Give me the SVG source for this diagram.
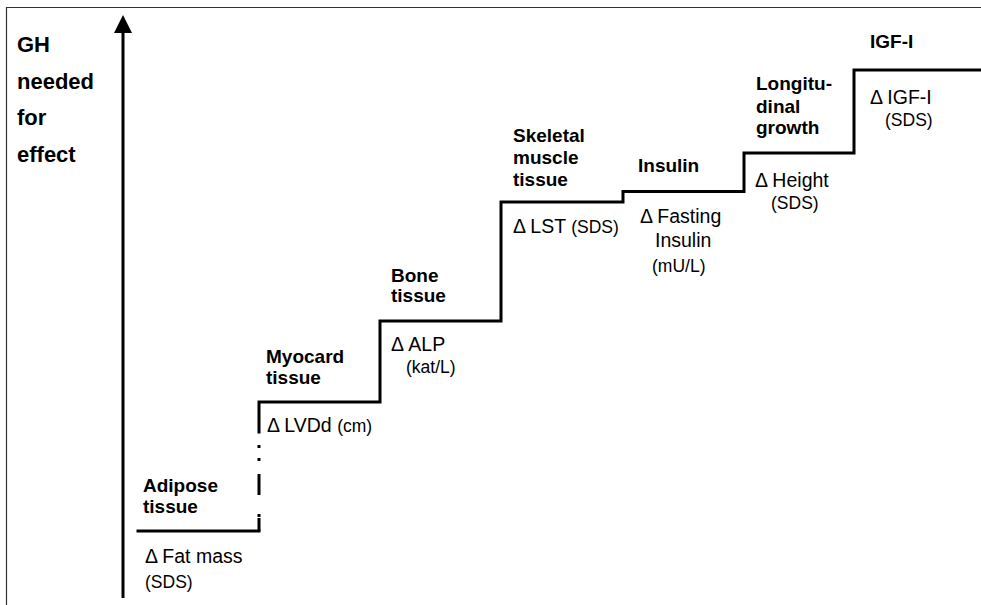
<svg xmlns="http://www.w3.org/2000/svg" width="981" height="605" viewBox="0 0 981 605">
  <style>
    .frame { fill: none; stroke: #333; stroke-width: 1.2; }
    .step { fill: none; stroke: #000; stroke-width: 3; stroke-linejoin: miter; stroke-linecap: square; }
    .gap { fill: none; stroke: #000; stroke-width: 3; }
    .axis { stroke: #000; stroke-width: 3; }
    text { font-family: "Liberation Sans", Arial, sans-serif; fill: #000; }
    .ttl { font-size: 22px; font-weight: bold; }
    .lbl { font-size: 19px; font-weight: bold; }
    .val { font-size: 19.5px; }
    .unit { font-size: 17.5px; }
  </style>

  <!-- frame -->
  <path class="frame" d="M6.5,605 V7.5 H981"/>

  <!-- vertical axis -->
  <g id="axis">
    <line class="axis" x1="123" y1="32" x2="123" y2="598"/>
    <polygon points="114,33 132,33 123,15" fill="#000"/>
    <text class="ttl" x="17" y="52">GH</text>
    <text class="ttl" x="17" y="89">needed</text>
    <text class="ttl" x="17" y="125">for</text>
    <text class="ttl" x="17" y="162">effect</text>
  </g>

  <!-- staircase -->
  <g id="connectors">
    <path class="step" d="M138,531 H259"/>
    <path class="gap" d="M259,531 V518 M259,517 V514 M259,495 V474 M259,461 V458 M259,448 V445"/>
    <path class="step" d="M259,432 V402 H380 V321 H501 V202 H623 V191.5 H744 V153 H854 V70 H981"/>
  </g>

  <g id="adipose">
    <text class="lbl" x="143" y="492">Adipose</text>
    <text class="lbl" x="143" y="513">tissue</text>
    <text class="val" x="145" y="563">Δ Fat mass</text>
    <text class="unit" x="145" y="588">(SDS)</text>
  </g>

  <g id="myocard">
    <text class="lbl" x="266" y="363">Myocard</text>
    <text class="lbl" x="266" y="384">tissue</text>
    <text class="val" x="267" y="432">Δ LVDd <tspan class="unit">(cm)</tspan></text>
  </g>

  <g id="bone">
    <text class="lbl" x="391" y="282">Bone</text>
    <text class="lbl" x="391" y="302">tissue</text>
    <text class="val" x="391" y="351">Δ ALP</text>
    <text class="unit" x="406" y="373">(kat/L)</text>
  </g>

  <g id="skeletal">
    <text class="lbl" x="513" y="142">Skeletal</text>
    <text class="lbl" x="513" y="164">muscle</text>
    <text class="lbl" x="513" y="186">tissue</text>
    <text class="val" x="513" y="233">Δ LST <tspan class="unit">(SDS)</tspan></text>
  </g>

  <g id="insulin">
    <text class="lbl" x="638" y="172">Insulin</text>
    <text class="val" x="640" y="223">Δ Fasting</text>
    <text class="val" x="655" y="247">Insulin</text>
    <text class="unit" x="652" y="272">(mU/L)</text>
  </g>

  <g id="growth">
    <text class="lbl" x="756" y="90">Longitu-</text>
    <text class="lbl" x="756" y="113">dinal</text>
    <text class="lbl" x="756" y="134">growth</text>
    <text class="val" x="755" y="187">Δ Height</text>
    <text class="unit" x="771" y="209">(SDS)</text>
  </g>

  <g id="igf">
    <text class="lbl" x="870" y="48">IGF-I</text>
    <text class="val" x="870" y="104">Δ IGF-I</text>
    <text class="unit" x="885" y="126">(SDS)</text>
  </g>
</svg>
